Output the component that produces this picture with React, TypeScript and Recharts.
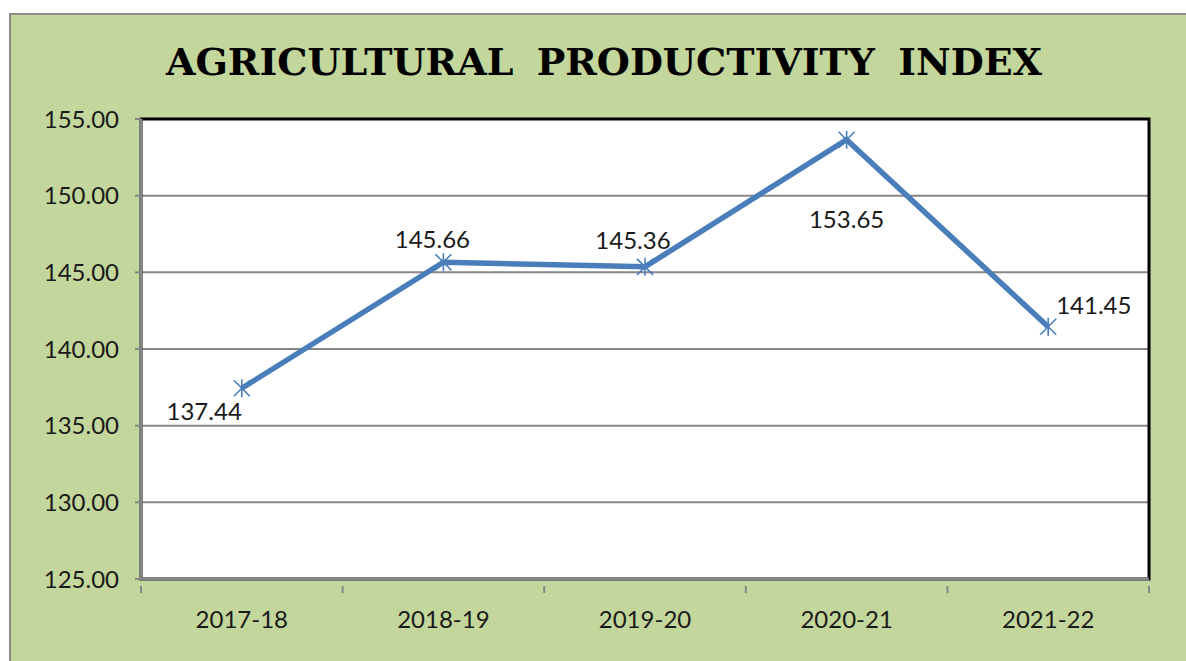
import React from 'react';
import { LineChart, Line, XAxis, YAxis, CartesianGrid, LabelList, ReferenceArea } from 'recharts';

const periods = ['2017-18', '2018-19', '2019-20', '2020-21', '2021-22'];
const productivityIndex = [137.44, 145.66, 145.36, 153.65, 141.45];
const yTicks = [125, 130, 135, 140, 145, 150, 155];

// label placement, as Excel put them
const labelPlacement = [
  { anchor: 'end', dx: 0, dy: 22 },
  { anchor: 'middle', dx: -11, dy: -24 },
  { anchor: 'middle', dx: -12, dy: -27 },
  { anchor: 'middle', dx: 0, dy: 79 },
  { anchor: 'start', dx: 8, dy: -22 },
];

const data = periods.map((p, i) => ({ period: p, pos: i + 0.5, value: productivityIndex[i] }));
const xTicks = [0, 0.5, 1, 1.5, 2, 2.5, 3, 3.5, 4, 4.5, 5];

const FONT = 'Lato, "Open Sans", sans-serif';
const LINE = '#4a7ebb';
const AXIS = '#868686';

function StarDot(props: any) {
  const { cx, cy } = props;
  if (cx == null || cy == null) return null;
  const r = 8;
  return (
    <g stroke={LINE} strokeWidth={1.6}>
      <line x1={cx - r} y1={cy - r} x2={cx + r} y2={cy + r} />
      <line x1={cx - r} y1={cy + r} x2={cx + r} y2={cy - r} />
      <line x1={cx} y1={cy - r - 1} x2={cx} y2={cy + r + 1} />
    </g>
  );
}

function XTick(props: any) {
  const { x, y, payload } = props;
  const v = payload.value;
  if (Number.isInteger(v)) {
    return <line x1={x} y1={y - 1} x2={x} y2={y + 6} stroke={AXIS} strokeWidth={2} />;
  }
  const label = periods[Math.floor(v)];
  return (
    <text x={x} y={y + 41} textAnchor="middle" fontFamily={FONT} fontSize={24} fill="#1a1a1a">
      {label}
    </text>
  );
}

function ValueLabel(props: any) {
  const { x, y, value, index } = props;
  const pl = labelPlacement[index];
  return (
    <text
      x={x + pl.dx}
      y={y + pl.dy}
      textAnchor={pl.anchor}
      dominantBaseline="central"
      fontFamily={FONT}
      fontSize={24}
      fill="#1a1a1a"
    >
      {Number(value).toFixed(2)}
    </text>
  );
}

export default function App() {
  return (
    <div
      style={{
        position: 'absolute',
        left: 9,
        top: 13,
        width: 1177,
        height: 648,
        boxSizing: 'border-box',
        background: '#c3d69b',
        borderTop: '2px solid #8c8c8c',
        borderLeft: '2px solid #8c8c8c',
        overflow: 'hidden',
      }}
    >
      <div
        style={{
          position: 'absolute',
          left: 0,
          width: 1186,
          top: 24,
          textAlign: 'center',
          fontFamily: '"DejaVu Serif", serif',
          fontWeight: 'bold',
          fontSize: 38,
          letterSpacing: 0,
          wordSpacing: 10,
          color: '#000',
        }}
      >
        AGRICULTURAL PRODUCTIVITY INDEX
      </div>
      <LineChart
        width={1175}
        height={646}
        data={data}
        margin={{ top: 104, right: 37, bottom: 42, left: 30 }}
        style={{ position: 'absolute', left: 0, top: 0 }}
      >
        <CartesianGrid horizontal vertical={false} stroke={AXIS} strokeWidth={2} fill="#ffffff" fillOpacity={1} />
        <ReferenceArea x1={0} x2={5} y1={125} y2={155} fill="none" stroke="#000" strokeWidth={3} ifOverflow="visible" />
        <XAxis
          type="number"
          dataKey="pos"
          domain={[0, 5]}
          ticks={xTicks}
          interval={0}
          height={40}
          tickLine={false}
          axisLine={{ stroke: AXIS, strokeWidth: 3 }}
          tick={<XTick />}
        />
        <YAxis
          type="number"
          domain={[125, 155]}
          ticks={yTicks}
          interval={0}
          width={100}
          tickSize={6}
          tickMargin={16}
          tickLine={{ stroke: AXIS, strokeWidth: 2 }}
          axisLine={{ stroke: AXIS, strokeWidth: 3 }}
          tickFormatter={(v: number) => v.toFixed(2)}
          tick={{ fontFamily: FONT, fontSize: 24, fill: '#1a1a1a' }}
        />
        <Line
          type="linear"
          dataKey="value"
          stroke={LINE}
          strokeWidth={5.5}
          dot={<StarDot />}
          activeDot={false}
          isAnimationActive={false}
        >
          <LabelList dataKey="value" content={<ValueLabel />} />
        </Line>
      </LineChart>
    </div>
  );
}
